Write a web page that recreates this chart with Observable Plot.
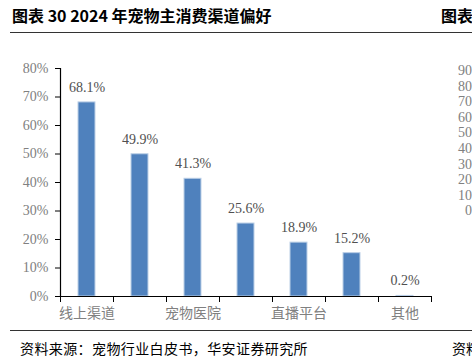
<!DOCTYPE html>
<html>
<head>
<meta charset="utf-8">
<script src="https://cdn.jsdelivr.net/npm/d3@7"></script>
<script src="https://cdn.jsdelivr.net/npm/@observablehq/plot@0.6"></script>
<style>
  html, body { margin: 0; padding: 0; background: #fff; }
  #page { position: relative; width: 472px; height: 364px; overflow: hidden; background: #fff; }
  .title { position: absolute; top: 5px; left: 12px; font-family: "Noto Sans CJK SC", sans-serif; font-weight: 700; font-size: 16px; color: #000; white-space: nowrap; line-height: 20px; }
  .title2 { position: absolute; top: 5px; left: 441px; font-family: "Noto Sans CJK SC", sans-serif; font-weight: 700; font-size: 16px; color: #000; white-space: nowrap; line-height: 20px; }
  .rule { position: absolute; left: 10px; width: 470px; height: 0; border-top: 1.3px solid #333; }
  .source { position: absolute; top: 339px; left: 20px; font-family: "Noto Sans CJK SC", sans-serif; font-size: 14px; letter-spacing: 0.4px; color: #000; white-space: nowrap; line-height: 18px; }
  .source2 { position: absolute; top: 339px; left: 452px; font-family: "Noto Sans CJK SC", sans-serif; font-size: 14px; color: #000; white-space: nowrap; line-height: 18px; }
  #chart { position: absolute; top: 40px; left: 0; }
  .ghost { position: absolute; left: 458px; font-family: "Liberation Serif", serif; font-size: 14px; color: #808080; white-space: nowrap; line-height: 14px; }
</style>
</head>
<body>
<div id="page">
  <div class="title">图表 30 2024 年宠物主消费渠道偏好</div>
  <div class="title2">图表</div>
  <div class="rule" style="top:32px"></div>
  <div id="chart"></div>
  <div id="ghosts"></div>
  <div class="rule" style="top:330px"></div>
  <div class="source">资料来源：宠物行业白皮书，华安证券研究所</div>
  <div class="source2">资料</div>
</div>
<script>
const tickLabels = ["线上渠道", "", "宠物医院", "", "直播平台", "", "其他"];
const values = [68.1, 49.9, 41.3, 25.6, 18.9, 15.2, 0.2];
const yTicks = [0, 10, 20, 30, 40, 50, 60, 70, 80];
const neighborTicks = ["90", "80", "70", "60", "50", "40", "30", "20", "10", "0"];

const data = values.map((v, i) => ({ i, v, label: tickLabels[i] }));
const serif = "Liberation Serif, Times New Roman, serif";

const chart = Plot.plot({
  width: 472,
  height: 285,
  marginLeft: 60,
  marginRight: 41,
  marginTop: 28,
  marginBottom: 29,
  x: { domain: [0, tickLabels.length], axis: null },
  y: { domain: [0, 80], axis: null },
  style: { background: "transparent", overflow: "visible" },
  marks: [
    Plot.rectY(data, {
      x1: d => d.i + 0.34,
      x2: d => d.i + 0.66,
      y: "v",
      fill: "#4f81bd",
      stroke: "#b9cde5",
      strokeWidth: 1
    }),
    Plot.axisY({
      ticks: yTicks,
      tickFormat: d => d + "%",
      tickSize: 5,
      tickPadding: 7,
      fontSize: 14,
      fontFamily: serif,
      color: "#808080",
      stroke: "#000",
      label: null
    }),
    Plot.ruleX([0], { stroke: "#000", strokeWidth: 1.2 }),
    Plot.ruleY([0], { stroke: "#000", strokeWidth: 1.2 }),
    Plot.axisX({
      ticks: d3.range(tickLabels.length + 1),
      tickFormat: () => "",
      tickSize: 6,
      stroke: "#000",
      label: null
    }),
    Plot.text(data, {
      x: d => d.i + 0.5,
      y: 0,
      text: "label",
      dy: 17,
      fontSize: 14,
      fontFamily: "Noto Sans CJK SC, sans-serif",
      fill: "#808080",
      letterSpacing: "0.5px"
    }),
    Plot.text(data, {
      x: d => d.i + 0.5,
      y: "v",
      text: d => d.v.toFixed(1) + "%",
      dy: -15,
      fontSize: 14,
      fontFamily: serif,
      fill: "#505050"
    })
  ]
});
document.getElementById("chart").appendChild(chart);

const ghosts = document.getElementById("ghosts");
neighborTicks.forEach((t, k) => {
  const s = document.createElement("div");
  s.className = "ghost";
  s.textContent = t;
  s.style.top = (64 + k * 15.6) + "px";
  if (t === "0") s.style.left = "465px";
  ghosts.appendChild(s);
});
</script>
</body>
</html>
